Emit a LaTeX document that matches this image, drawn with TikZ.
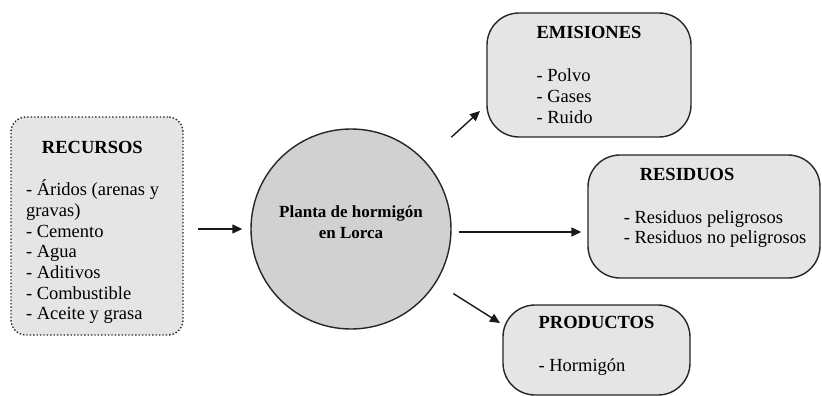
\documentclass[tikz,border=0pt]{standalone}
\usepackage{fontspec}
\setmainfont{Liberation Serif}
\usetikzlibrary{arrows.meta, shapes.geometric}

\begin{document}
\begin{tikzpicture}[x=1pt, y=-1pt,
    box/.style={rectangle, draw=black!85, line width=1.4pt, rounded corners=32pt, fill=black!10, align=flush left, inner sep=0pt, font=\fontsize{18.5}{20.7}\selectfont},
    a/.style={-{Triangle[length=10pt, width=9pt]}, line width=1.4pt, black!90},
]
\useasboundingbox (0,0) rectangle (822,396);
\node[box, rounded corners=15pt, dotted, minimum width=172pt, minimum height=218pt, text width=142pt] (rec) at (97,226)
  {\rule{0pt}{25pt}\hspace*{16pt}\textbf{RECURSOS}\\[22pt]- Áridos (arenas y\\gravas)\\- Cemento\\- Agua\\- Aditivos\\- Combustible\\- Aceite y grasa};
\node[circle, draw=black!85, line width=1.4pt, fill=black!18, minimum size=200pt, align=center, font=\fontsize{17}{21}\selectfont\bfseries] (pl) at (351,229)
  {Planta de hormigón\\en Lorca\rule[-14pt]{0pt}{1pt}};
\node[box, minimum width=204pt, minimum height=124pt] (emi) at (589,75)
  {\textbf{EMISIONES}\\[22pt]- Polvo\\- Gases\\- Ruido};
\node[box, minimum width=232pt, minimum height=123pt] (res) at (704,216.5)
  {\hspace*{38pt}\textbf{RESIDUOS}\\[22pt]\hspace*{22pt}- Residuos peligrosos\\\hspace*{22pt}- Residuos no peligrosos\\ ~};
\node[box, minimum width=187pt, minimum height=90pt] (prod) at (596.5,350)
  {\textbf{PRODUCTOS}\\[22pt]- Hormigón\\[-8pt] ~};
\coordinate (emiin) at (480,111);
\coordinate (prodin) at (500,323);
\draw[a, shorten <=14pt, shorten >=8pt] (rec.east |- pl) -- (pl.west);
\draw[a, shorten <=7pt, shorten >=6pt] ([yshift=-3pt]pl.east) -- ([yshift=-3pt]pl.east -| res.west);
\draw[a, shorten <=136pt] (pl.center) -- (emiin);
\draw[a, shorten <=121pt] (pl.center) -- (prodin);
\end{tikzpicture}
\end{document}
